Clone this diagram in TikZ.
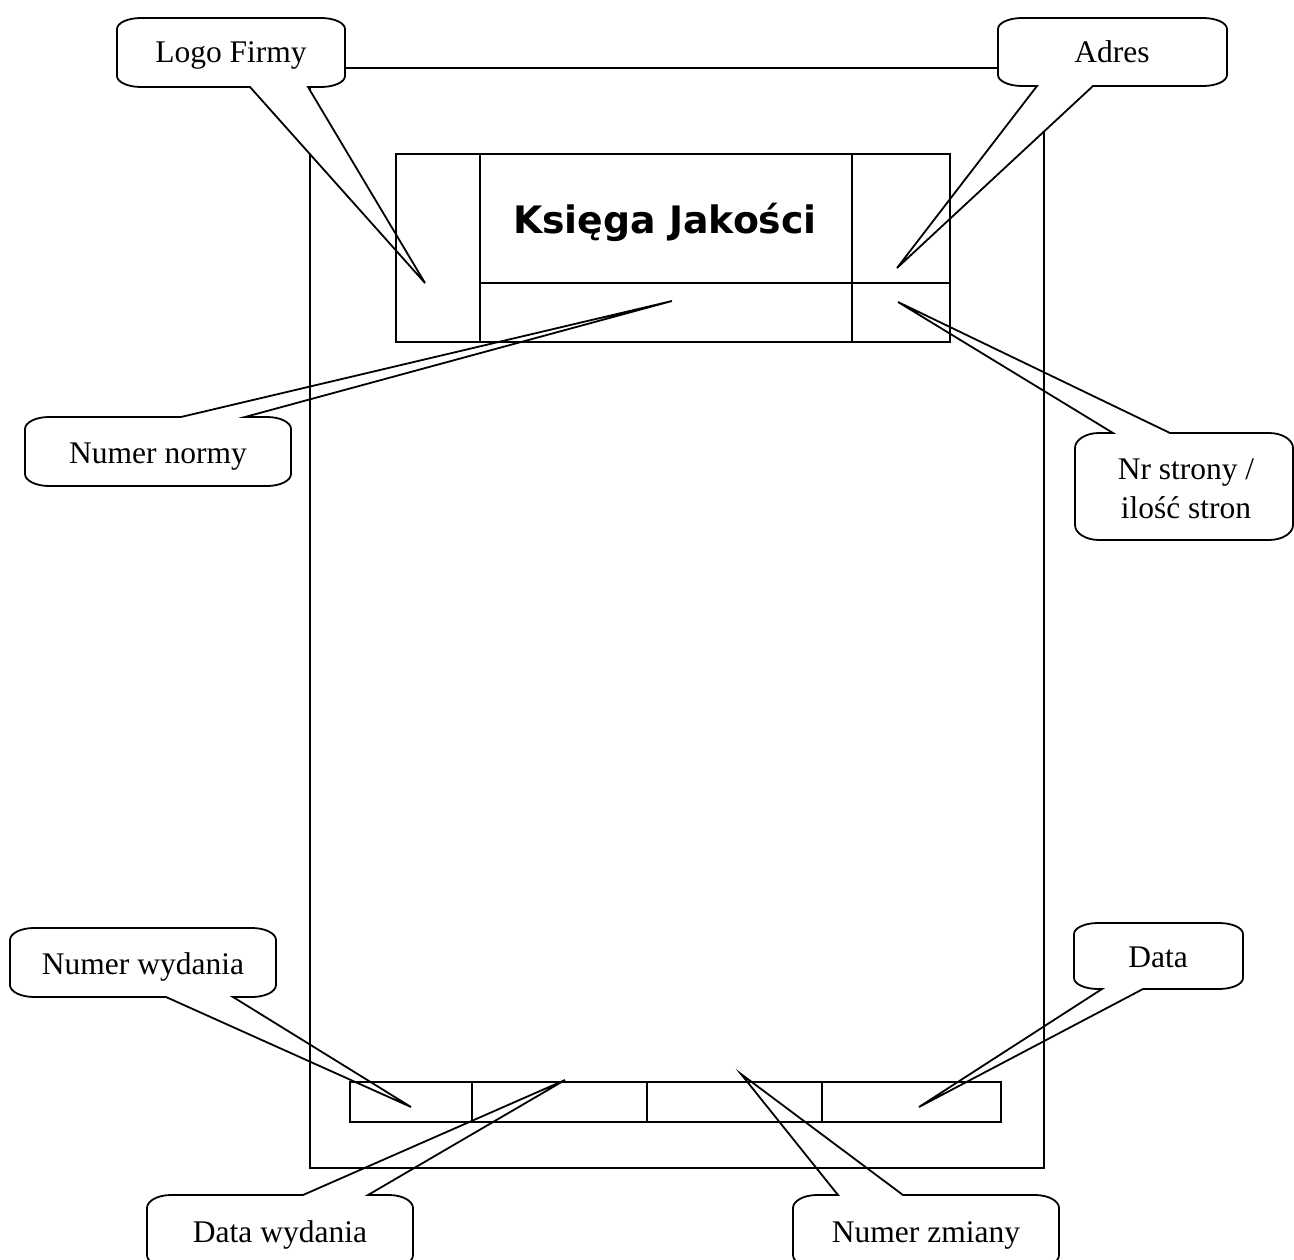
\documentclass[tikz,border=0pt]{standalone}
\usepackage{fontspec}
\setmainfont{Liberation Serif}
\newfontfamily\titlefont{DejaVu Sans}
\def\crx{24}
\def\crk{13.2}
% callout with wedge on the bottom side: L,T,R,B, base1, base2, tipx, tipy, ry
\newcommand\callB[9]{%
\path[calloutshape] (#1+\crx,#2) -- (#3-\crx,#2)
 .. controls (#3-\crx+\crk,#2) and (#3,#2+#9-0.552*#9) .. (#3,#2+#9)
 -- (#3,#4-#9)
 .. controls (#3,#4-#9+0.552*#9) and (#3-\crx+\crk,#4) .. (#3-\crx,#4)
 -- (#6,#4) -- (#7,#8) -- (#5,#4) -- (#1+\crx,#4)
 .. controls (#1+\crx-\crk,#4) and (#1,#4-#9+0.552*#9) .. (#1,#4-#9)
 -- (#1,#2+#9)
 .. controls (#1,#2+#9-0.552*#9) and (#1+\crx-\crk,#2) .. (#1+\crx,#2) -- cycle;}
% callout with wedge on the top side
\newcommand\callT[9]{%
\path[calloutshape] (#1+\crx,#2) -- (#5,#2) -- (#7,#8) -- (#6,#2) -- (#3-\crx,#2)
 .. controls (#3-\crx+\crk,#2) and (#3,#2+#9-0.552*#9) .. (#3,#2+#9)
 -- (#3,#4-#9)
 .. controls (#3,#4-#9+0.552*#9) and (#3-\crx+\crk,#4) .. (#3-\crx,#4)
 -- (#1+\crx,#4)
 .. controls (#1+\crx-\crk,#4) and (#1,#4-#9+0.552*#9) .. (#1,#4-#9)
 -- (#1,#2+#9)
 .. controls (#1,#2+#9-0.552*#9) and (#1+\crx-\crk,#2) .. (#1+\crx,#2) -- cycle;}
\tikzset{
  calloutshape/.style={draw=black, fill=white, line width=1.8pt, line join=miter},
  frame/.style={draw=black, line width=1.9pt},
  lbl/.style={font=\fontsize{31.5}{39}\selectfont, inner sep=0pt, text=black},
  titlelbl/.style={font=\titlefont\bfseries\fontsize{37.8}{40}\selectfont, inner sep=0pt, text=black}
}
\begin{document}
\begin{tikzpicture}[x=1pt,y=-1pt]
\useasboundingbox[fill=white] (0,0) rectangle (1294,1260);

% callouts lying behind the page outline
\callT{25}{417}{291}{486}{181}{245}{672}{301}{12}
\callT{1075}{433}{1293}{540}{1113}{1170}{898}{302}{15}
\callB{10}{928}{276}{997}{166}{233}{411}{1107}{12}
\callB{1074}{923}{1243}{989}{1102}{1143}{919}{1107}{11}
\callT{147}{1195}{413}{1268}{303}{368}{565}{1080}{13}
\callT{793}{1195}{1059}{1268}{838}{903}{741}{1074}{13}

% page outline
\draw[frame] (310,68) rectangle (1044,1168);

% callouts lying in front of the page outline
\callB{117}{18}{345}{87}{250}{308}{425}{283}{11}
\callB{998}{18}{1227}{86}{1037}{1093}{897}{268}{11}

% header table
\draw[frame] (396,154) rectangle (950,342);
\draw[frame] (480,154) -- (480,342);
\draw[frame] (852,154) -- (852,342);
\draw[frame] (480,283) -- (950,283);

% footer table
\draw[frame] (350,1082) rectangle (1001,1122);
\draw[frame] (472,1082) -- (472,1122);
\draw[frame] (647,1082) -- (647,1122);
\draw[frame] (822,1082) -- (822,1122);

% texts
\node[titlelbl, anchor=base] (title) at (665,234) {Księga Jakości};
\node[lbl, anchor=base] (logo) at (231,63) {Logo Firmy};
\node[lbl, anchor=base] (adres) at (1112,63) {Adres};
\node[lbl, anchor=base] (norma) at (158,463) {Numer normy};
\node[lbl, align=center, anchor=center] (strona) at (1186,489) {Nr strony /\\ilość stron};
\node[lbl, anchor=base] (wydanie) at (143,974) {Numer wydania};
\node[lbl, anchor=base] (data) at (1158,967) {Data};
\node[lbl, anchor=base] (datawyd) at (280,1242) {Data wydania};
\node[lbl, anchor=base] (zmiana) at (926,1242) {Numer zmiany};
\end{tikzpicture}
\end{document}
